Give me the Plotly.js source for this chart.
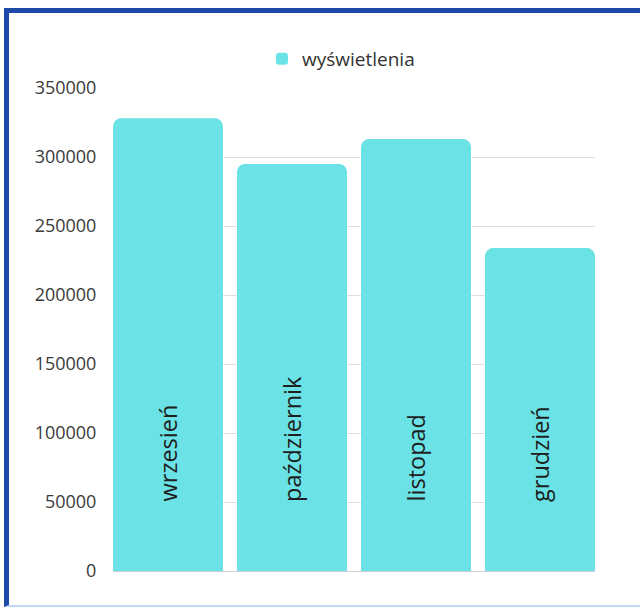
<!DOCTYPE html>
<html>
<head>
<meta charset="utf-8">
<script src="https://cdn.plot.ly/plotly-3.0.1.min.js"></script>
<style>
  html, body { margin: 0; padding: 0; background: #ffffff; }
  #wrap { position: relative; width: 640px; height: 609px; overflow: hidden; }
  #chart { position: absolute; left: 0; top: 0; width: 640px; height: 609px; }
  #frame { position: absolute; left: 4px; top: 8px; width: 640px; height: 599px;
           border-left: 5px solid #1d4aa9; border-top: 5px solid #1d4aa9;
           border-bottom: 2px solid #c3d8f7; box-sizing: border-box; pointer-events: none; }
</style>
</head>
<body>
<div id="wrap">
  <div id="chart"></div>
  <div id="frame"></div>
</div>
<script>
const categories = ["wrzesień", "październik", "listopad", "grudzień"];
const seriesName = "wyświetlenia";
const views = [328000, 295000, 313000, 234000];
const tickValues = [0, 50000, 100000, 150000, 200000, 250000, 300000, 350000];
const tickLabels = ["0", "50000", "100000", "150000", "200000", "250000", "300000", "350000"];
const labelY = 48600;

const barColor = "#6be3e6";
const gap = 0.113;

const trace = {
  type: "bar",
  x: categories,
  y: views,
  name: seriesName,
  marker: { color: barColor, cornerradius: 8 },
  hoverinfo: "x+y",
  showlegend: true
};

const annotations = categories.map(c => ({
  x: c, y: labelY, xref: "x", yref: "y",
  text: c, showarrow: false, textangle: -90,
  xanchor: "center", yanchor: "bottom",
  font: { family: "Open Sans", size: 23.5, color: "#1e1e1e" }
}));

const layout = {
  width: 640, height: 609,
  margin: { l: 113, r: 45, t: 88, b: 38 },
  paper_bgcolor: "#ffffff",
  plot_bgcolor: "#ffffff",
  bargap: gap,
  font: { family: "Open Sans", size: 18, color: "#3a3a3a" },
  showlegend: true,
  legend: {
    orientation: "h", x: 0.473, xanchor: "center", y: 1.06, yanchor: "middle",
    font: { family: "Open Sans", size: 19, color: "#333333" },
    itemwidth: 30
  },
  xaxis: {
    range: [-0.5 + gap / 2, categories.length - 0.5 - gap / 2],
    showticklabels: false, showgrid: false, zeroline: false,
    showline: false, ticks: ""
  },
  yaxis: {
    range: [0, 350000], tickvals: tickValues, ticktext: tickLabels,
    showgrid: true, gridcolor: "#dedede", gridwidth: 1,
    zeroline: true, zerolinecolor: "#cfcfcf", zerolinewidth: 1,
    showline: false, ticks: "outside", ticklen: 12, tickcolor: "rgba(0,0,0,0)",
    tickfont: { family: "Open Sans", size: 18, color: "#3a3a3a" }
  },
  annotations: annotations
};

Plotly.newPlot("chart", [trace], layout, { displayModeBar: false, staticPlot: true });
</script>
</body>
</html>
